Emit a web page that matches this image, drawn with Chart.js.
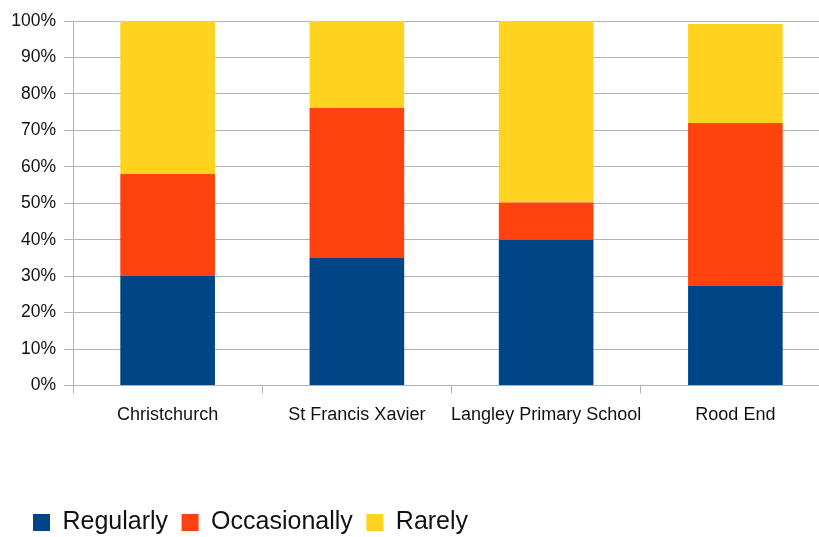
<!DOCTYPE html>
<html>
<head>
<meta charset="utf-8">
<script src="https://cdn.jsdelivr.net/npm/chart.js@4.4.1/dist/chart.umd.min.js"></script>
<style>
  html, body { margin: 0; padding: 0; background: #fff; overflow: hidden; }
  /* the plot runs a little past the right edge in the original, so the canvas is wider than the window */
  #wrap { width: 819px; height: 537px; overflow: hidden; }
</style>
</head>
<body>
<div id="wrap"><canvas id="surveyChart" width="830" height="537"></canvas></div>
<script>
// Chart data (percent of pupils per school)
const schools = ['Christchurch', 'St Francis Xavier', 'Langley Primary School', 'Rood End'];
const regularly = [30.2, 35.0, 40.0, 27.3];
const occasionally = [27.8, 41.1, 10.2, 44.7];
const rarely = [42.0, 23.9, 49.8, 27.2];
const yTicks = [0, 10, 20, 30, 40, 50, 60, 70, 80, 90, 100];

const gridGrey = '#b3b3b3';
const fontFamily = "'Liberation Sans', Arial, sans-serif";

// nudge the legend to where the original sits
const legendPlacer = {
  id: 'legendPlacer',
  afterLayout(chart) {
    chart.legend.left = 19.5;
    chart.legend.top += 8;
  }
};

const ctx = document.getElementById('surveyChart').getContext('2d');
new Chart(ctx, {
  type: 'bar',
  data: {
    labels: schools,
    datasets: [
      { label: 'Regularly', data: regularly, backgroundColor: '#004586' },
      { label: 'Occasionally', data: occasionally, backgroundColor: '#ff420e' },
      { label: 'Rarely', data: rarely, backgroundColor: '#ffd320' }
    ]
  },
  options: {
    responsive: false,
    animation: false,
    layout: { padding: { top: 21, right: 0, bottom: 0, left: 0 } },
    datasets: {
      bar: { barPercentage: 1, categoryPercentage: 0.5, borderWidth: 0 }
    },
    scales: {
      x: {
        stacked: true,
        grid: { drawOnChartArea: false, drawTicks: true, tickLength: 8, color: gridGrey },
        border: { color: gridGrey },
        ticks: {
          color: '#111',
          padding: 11,
          maxRotation: 0,
          minRotation: 0,
          autoSkip: false,
          font: { family: fontFamily, size: 18 }
        },
        afterFit(scale) { scale.height = 103; }
      },
      y: {
        stacked: true,
        min: 0,
        max: 100,
        afterBuildTicks(scale) { scale.ticks = yTicks.map(v => ({ value: v })); },
        grid: { color: gridGrey, tickLength: 9 },
        border: { color: gridGrey },
        ticks: {
          color: '#111',
          padding: 8,
          font: { family: fontFamily, size: 17.5 },
          callback: (v) => v + '%'
        },
        afterFit(scale) { scale.width = 73; }
      }
    },
    plugins: {
      tooltip: { enabled: false },
      legend: {
        position: 'bottom',
        align: 'start',
        labels: {
          boxWidth: 17,
          boxHeight: 17,
          padding: 13.5,
          color: '#111',
          font: { family: fontFamily, size: 25 }
        }
      }
    }
  },
  plugins: [legendPlacer]
});
</script>
</body>
</html>
